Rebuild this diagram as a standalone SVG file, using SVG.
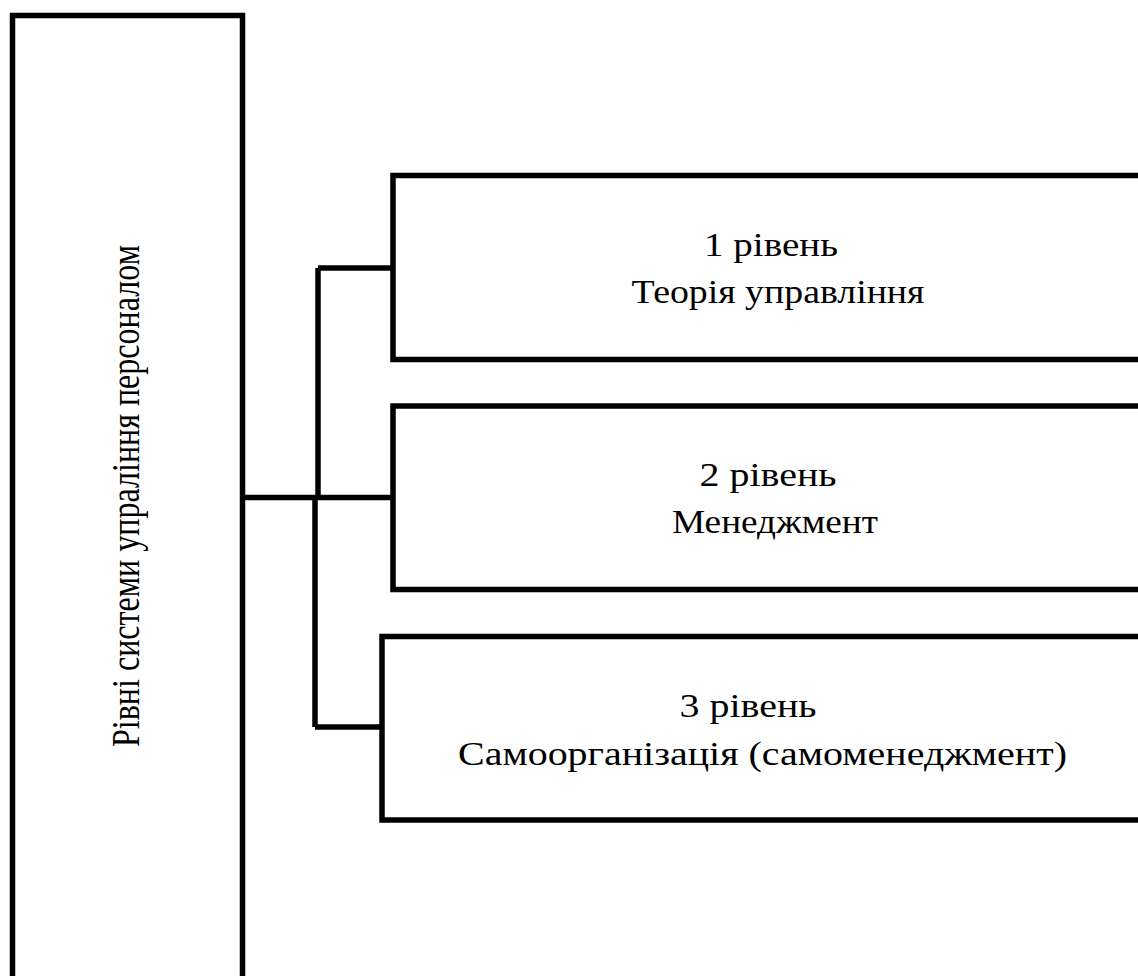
<svg xmlns="http://www.w3.org/2000/svg" width="1138" height="976" viewBox="0 0 1138 976">
<style>
.b{fill:none;stroke:#000;stroke-width:5.5;stroke-linejoin:miter}
.c{fill:none;stroke:#000;stroke-width:5.5}
.t{font-family:"Liberation Serif","Times New Roman",serif;font-size:34px;fill:#000;text-anchor:middle}
.v{font-family:"Liberation Serif","Times New Roman",serif;font-size:39px;fill:#000}
</style>
<rect width="1138" height="976" fill="#fff"/>
<g id="root">
<path class="b" d="M12.5,990 V15.5 H242.5 V990"/>
<text class="v" transform="translate(139,747) rotate(-90)" textLength="502" lengthAdjust="spacingAndGlyphs">Рівні системи упраління персоналом</text>
</g>
<g id="connectors">
<path class="c" d="M242.5,497.5 H393"/>
<path class="c" d="M318,268 V497.5"/>
<path class="c" d="M315,497.5 V727"/>
<path class="c" d="M318,268 H393"/>
<path class="c" d="M315,727 H382"/>
</g>
<g id="level1">
<path class="b" d="M1145,175.5 H393 V359.5 H1145"/>
<text class="t" x="771" y="256" textLength="134" lengthAdjust="spacingAndGlyphs">1 рівень</text>
<text class="t" x="778" y="303" textLength="293" lengthAdjust="spacingAndGlyphs">Теорія управління</text>
</g>
<g id="level2">
<path class="b" d="M1145,406 H393 V589.5 H1145"/>
<text class="t" x="768" y="486" textLength="137" lengthAdjust="spacingAndGlyphs">2 рівень</text>
<text class="t" x="775" y="533" textLength="206" lengthAdjust="spacingAndGlyphs">Менеджмент</text>
</g>
<g id="level3">
<path class="b" d="M1145,636.5 H382 V820 H1145"/>
<text class="t" x="748" y="717" textLength="137" lengthAdjust="spacingAndGlyphs">3 рівень</text>
<text class="t" x="762.5" y="765" textLength="609" lengthAdjust="spacingAndGlyphs">Самоорганізація (самоменеджмент)</text>
</g>
</svg>
